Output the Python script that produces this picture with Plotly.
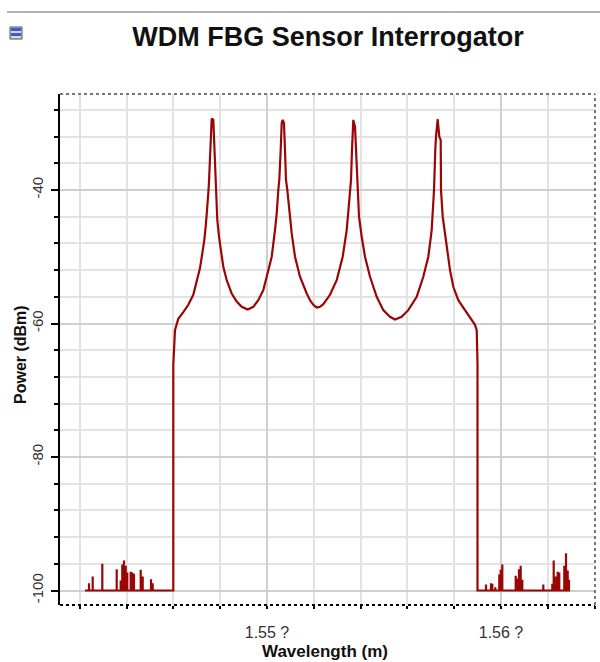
import plotly.graph_objects as go

# ---------------- data ----------------
floor_level = -100.0
left_floor_start = 1.542222
left_edge = 1.545996
right_edge = 1.558996
right_floor_end = 1.562949

left_spike_wl = [1.542393, 1.542551, 1.542962, 1.543577, 1.543748, 1.543816,
                 1.543889, 1.543962, 1.544030, 1.544175, 1.544244, 1.544316,
                 1.544603, 1.544688, 1.545043, 1.545115]
left_spike_db = [-98.9, -97.9, -96.0, -96.8, -98.5, -96.1,
                 -95.5, -96.3, -97.3, -97.2, -97.3, -97.5,
                 -96.9, -97.9, -98.3, -98.9]

right_spike_wl = [1.559359, 1.559573, 1.559628, 1.559756, 1.559927, 1.559987,
                  1.560056, 1.560628, 1.560697, 1.560769, 1.560842, 1.560910,
                  1.561808, 1.562192, 1.562252, 1.562338, 1.562423, 1.562491,
                  1.562705, 1.562778, 1.562850, 1.562906]
right_spike_db = [-99.1, -98.9, -99.0, -99.5, -97.6, -96.9,
                  -96.1, -97.8, -98.2, -96.8, -96.3, -98.4,
                  -99.1, -99.0, -95.5, -97.9, -97.2, -97.3,
                  -96.3, -94.4, -97.0, -98.4]

band_wl = [1.545996, 1.546068, 1.546111, 1.546209, 1.546423, 1.546637, 1.546850,
           1.546996, 1.547137, 1.547235, 1.547321, 1.547393, 1.547449, 1.547491,
           1.547521, 1.547564, 1.547594, 1.547637, 1.547705, 1.547748, 1.547808,
           1.547876, 1.547949, 1.548034, 1.548132, 1.548278, 1.548491, 1.548705,
           1.548919, 1.549175, 1.549415, 1.549628, 1.549842, 1.549987, 1.550201,
           1.550342, 1.550415, 1.550483, 1.550526, 1.550585, 1.550628, 1.550671,
           1.550726, 1.550769, 1.550812, 1.550868, 1.550953, 1.551056, 1.551197,
           1.551410, 1.551697, 1.551838, 1.551979, 1.552124, 1.552265, 1.552406,
           1.552692, 1.552979,
           1.553235, 1.553406, 1.553517, 1.553590, 1.553632, 1.553662, 1.553688,
           1.553761, 1.553803, 1.553859, 1.553932, 1.554047, 1.554188, 1.554402,
           1.554688, 1.554970, 1.555256, 1.555470, 1.555756, 1.556038, 1.556397,
           1.556679, 1.556893, 1.557038, 1.557137, 1.557192, 1.557222, 1.557295,
           1.557363, 1.557423, 1.557436, 1.557509, 1.557607, 1.557705, 1.557821,
           1.557962, 1.558175, 1.558462, 1.558675, 1.558889, 1.558962, 1.558996]
band_db = [-66.2, -61.0, -60.5, -59.3, -58.3, -57.2, -55.7,
           -53.7, -51.7, -49.5, -47.5, -45.0, -43.0, -40.5,
           -38.8, -35.5, -31.0, -29.3, -29.5, -34.0, -40.0,
           -44.5, -47.0, -49.5, -51.5, -53.5, -55.5, -56.7,
           -57.5, -57.9, -57.5, -56.5, -55.0, -53.0, -50.0,
           -46.0, -43.5, -40.0, -38.5, -34.0, -30.0, -29.5,
           -30.0, -34.0, -38.5, -40.0, -43.5, -46.5, -50.0,
           -53.0, -55.5, -56.5, -57.2, -57.6, -57.5, -57.1,
           -55.7, -53.5,
           -50.0, -46.0, -41.5, -38.5, -34.0, -30.0, -29.5,
           -30.5, -34.0, -39.5, -44.0, -47.0, -50.0, -53.0,
           -56.0, -58.0, -59.0, -59.4, -59.0, -58.0, -56.0,
           -53.0, -50.0, -46.0, -40.0, -34.0, -32.0, -29.4,
           -32.0, -32.5, -40.0, -44.0, -46.5, -49.0, -52.0,
           -54.5, -56.5, -58.0, -59.2, -60.2, -61.0, -66.0]

x_tick_vals = [1.55, 1.56]
x_tick_text = ["1.55 ?", "1.56 ?"]
y_tick_vals = [-100, -80, -60, -40]
y_tick_text = ["-100", "-80", "-60", "-40"]

title_text = "WDM FBG Sensor Interrogator"
x_title = "Wavelength (m)"
y_title = "Power (dBm)"

# ---------------- build one continuous trace ----------------
xs, ys = [left_floor_start], [floor_level]
for w, d in zip(left_spike_wl, left_spike_db):
    xs += [w, w, w]
    ys += [floor_level, d, floor_level]
xs.append(left_edge); ys.append(floor_level)
xs += band_wl; ys += band_db
xs.append(right_edge); ys.append(floor_level)
for w, d in zip(right_spike_wl, right_spike_db):
    xs += [w, w, w]
    ys += [floor_level, d, floor_level]
xs.append(right_floor_end); ys.append(floor_level)

line_color = "#9a0606"

fig = go.Figure(go.Scatter(x=xs, y=ys, mode="lines",
                           line=dict(color=line_color, width=2.2),
                           hoverinfo="skip", showlegend=False))

W, H = 600, 662
L, R, T, B = 60, 5, 94, 57
pw, ph = W - L - R, H - T - B

def px(x):
    return (x - L) / pw

def py(y):
    return (H - B - y) / ph

font_main = "Liberation Sans, Arial, sans-serif"

fig.update_layout(
    width=W, height=H,
    margin=dict(l=L, r=R, t=T, b=B, autoexpand=False),
    paper_bgcolor="white", plot_bgcolor="white",
    font=dict(family=font_main, color="#222222"),
    title=dict(text="<b>" + title_text + "</b>", x=328 / W, xanchor="center",
               y=1 - 37 / H, yanchor="middle", yref="container",
               font=dict(size=27, color="#111111", family=font_main)),
    xaxis=dict(range=[1.541154, 1.564017], tickmode="array",
               tickvals=x_tick_vals, ticktext=x_tick_text,
               showline=False, zeroline=False,
               showgrid=True, gridcolor="#cfcfcf", gridwidth=1.5,
               ticks="outside", ticklen=3, tickcolor="black", tickwidth=2,
               ticklabelstandoff=10,
               tickfont=dict(size=16, color="#333333"),
               minor=dict(tick0=1.55, dtick=0.002, showgrid=True,
                          gridcolor="#e3e3e3", gridwidth=1.5,
                          ticks="outside", ticklen=3, tickcolor="black", tickwidth=2)),
    yaxis=dict(range=[-102.17, -25.62], tickmode="array",
               tickvals=y_tick_vals, ticktext=y_tick_text, tickangle=-90,
               showline=True, linecolor="black", linewidth=2, zeroline=False,
               showgrid=True, gridcolor="#cfcfcf", gridwidth=1.5,
               ticks="outside", ticklen=7, tickcolor="black", tickwidth=2,
               ticklabelstandoff=2,
               tickfont=dict(size=15, color="#333333"),
               minor=dict(tick0=-100, dtick=4, showgrid=True,
                          gridcolor="#e3e3e3", gridwidth=1.5,
                          ticks="outside", ticklen=4, tickcolor="black", tickwidth=2)),
)

shapes = [
    dict(type="line", xref="paper", yref="paper", x0=0, x1=1, y0=0, y1=0,
         line=dict(color="black", width=2, dash="dot")),
    dict(type="line", xref="paper", yref="paper", x0=0, x1=1, y0=1, y1=1,
         line=dict(color="#777777", width=2, dash="dot")),
    dict(type="line", xref="paper", yref="paper", x0=1, x1=1, y0=0, y1=1,
         line=dict(color="#777777", width=2, dash="dot")),
    dict(type="line", xref="paper", yref="paper", x0=px(7), x1=px(600), y0=py(12), y1=py(12),
         line=dict(color="#666666", width=1)),
    dict(type="rect", xref="paper", yref="paper", x0=px(10), x1=px(22), y0=py(27), y1=py(39),
         line=dict(color="#4a4a6a", width=1), fillcolor="#d8d8e0"),
    dict(type="rect", xref="paper", yref="paper", x0=px(11), x1=px(21), y0=py(28), y1=py(31),
         line=dict(width=0), fillcolor="#2f5fd0"),
    dict(type="rect", xref="paper", yref="paper", x0=px(11), x1=px(21), y0=py(33), y1=py(36),
         line=dict(width=0), fillcolor="#2f5fd0"),
]
fig.update_layout(shapes=shapes)

fig.add_annotation(text="<b>" + y_title + "</b>", xref="paper", yref="paper",
                   x=px(20), y=py(355), xanchor="center", yanchor="middle",
                   textangle=-90, showarrow=False,
                   font=dict(size=16, color="#111111", family=font_main))
fig.add_annotation(text="<b>" + x_title + "</b>", xref="paper", yref="paper",
                   x=px(325), y=py(651), xanchor="center", yanchor="middle",
                   showarrow=False,
                   font=dict(size=17, color="#111111", family=font_main))

fig.write_html("out.html")
